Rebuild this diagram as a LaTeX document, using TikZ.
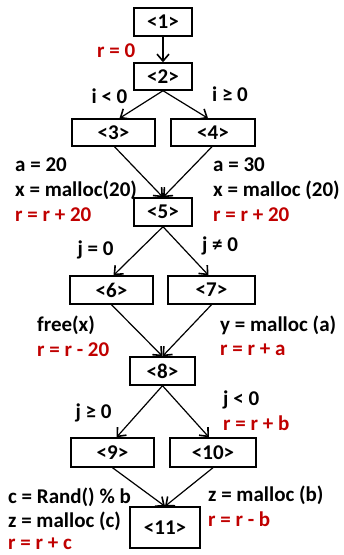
\documentclass[tikz,border=0pt]{standalone}
\usepackage{fontspec}
\setmainfont{Carlito}
\usetikzlibrary{arrows.meta,calc}
\definecolor{darkred}{RGB}{192,0,0}
\begin{document}
\begin{tikzpicture}[x=1pt,y=-1pt,
  font=\bfseries\fontsize{21}{24}\selectfont,
  blk/.style={draw,line width=1.4pt,inner sep=0pt,minimum height=28pt},
  lbl/.style={anchor=west,inner sep=0pt},
  rlbl/.style={lbl,text=darkred},
  cl/.style={anchor=center,inner sep=0pt},
  edge/.style={line width=1.2pt,-{Straight Barb[length=7pt,width=12pt,line width=1.6pt]}}]
\useasboundingbox (0,0) rectangle (344,555);
% blocks
\node[blk,minimum width=58pt] (b1) at (163,22) {<1>};
\node[blk,minimum width=58pt,minimum height=27pt] (b2) at (163,76.5) {<2>};
\node[blk,minimum width=83pt,minimum height=27pt] (b3) at (113.5,132.5) {<3>};
\node[blk,minimum width=84pt,minimum height=27pt] (b4) at (213,132.5) {<4>};
\node[blk,minimum width=58pt] (b5) at (163,212) {<5>};
\node[blk,minimum width=83pt] (b6) at (111.5,290) {<6>};
\node[blk,minimum width=87pt] (b7) at (211.5,290) {<7>};
\node[blk,minimum width=65pt] (b8) at (162.5,371) {<8>};
\node[blk,minimum width=83pt,minimum height=29pt] (b9) at (112.5,452.5) {<9>};
\node[blk,minimum width=86pt,minimum height=29pt] (b10) at (213,452.5) {<10>};
\node[blk,minimum width=70pt,minimum height=41pt] (b11) at (165,527.5) {<11>};
% edges
\draw[edge] (b1.south) -- (b2.north);
\draw[edge] (b2.south) -- ($(b3.north)+(6,0)$);
\draw[edge] (b2.south) -- ($(b4.north)+(-5,0)$);
\draw[edge] ($(b3.south)+(1,0)$) -- (b5.north);
\draw[edge] ($(b4.south)+(-1,0)$) -- (b5.north);
\draw[edge] (b5.south) -- ($(b6.north)+(2,0)$);
\draw[edge] (b5.south) -- ($(b7.north)+(-3,0)$);
\draw[edge] (b6.south) -- (b8.north);
\draw[edge] (b7.south) -- (b8.north);
\draw[edge] (b8.south) -- ($(b9.north)+(4,0)$);
\draw[edge] (b8.south) -- ($(b10.north)+(-4,0)$);
\draw[edge] (b9.south) -- (b11.north);
\draw[edge] (b10.south) -- (b11.north);
% labels
\node[rlbl] (r0) at (97,51) {r = 0};
\node[cl] (c1) at (109.5,96) {i < 0};
\node[cl] (c2) at (230,94) {i ≥ 0};
\node[lbl] (l3a) at (15,165) {a = 20};
\node[lbl] (l3b) at (15,190) {x = malloc(20)};
\node[rlbl] (l3c) at (15,215) {r = r + 20};
\node[lbl] (l4a) at (213,165) {a = 30};
\node[lbl] (l4b) at (213,190) {x = malloc (20)};
\node[rlbl] (l4c) at (213,215) {r = r + 20};
\node[cl] (c3) at (95.5,250) {j = 0};
\node[cl] (c4) at (220,246) {j ≠ 0};
\node[lbl] (l6a) at (37,325) {free(x)};
\node[rlbl] (l6b) at (37,350) {r = r - 20};
\node[lbl] (l7a) at (220,325) {y = malloc (a)};
\node[rlbl] (l7b) at (220,350) {r = r + a};
\node[cl] (c5) at (93.5,413) {j ≥ 0};
\node[lbl] (c6) at (223,400) {j < 0};
\node[rlbl] (l10a) at (223,423) {r = r + b};
\node[lbl] (l9a) at (8,497) {c = Rand() \% b};
\node[lbl] (l9b) at (8,521) {z = malloc (c)};
\node[rlbl] (l9c) at (8,544) {r = r + c};
\node[lbl] (l10b) at (208,495) {z = malloc (b)};
\node[rlbl] (l10c) at (208,519) {r = r - b};
\end{tikzpicture}
\end{document}
